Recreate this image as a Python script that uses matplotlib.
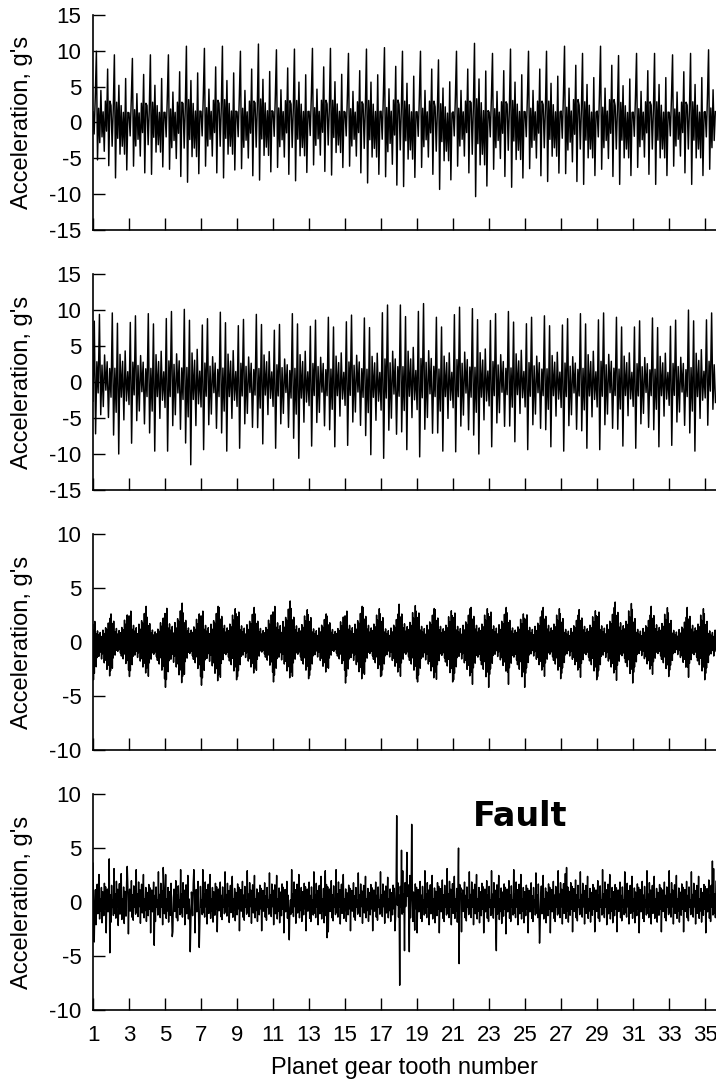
import matplotlib
matplotlib.use("Agg")
import matplotlib.pyplot as plt
import numpy as np

plt.rcParams['font.family'] = ['Liberation Sans', 'DejaVu Sans']
plt.rcParams['axes.unicode_minus'] = False

# ---- data ----
# x axis: planet gear tooth number, signals run from tooth 1 to ~35.6
x_end = 35.6
xticks = list(range(1, 36, 2))

# panel 1 - one mesh cycle per tooth (16 samples), two variants
p1_shape_a = [1.5, -2.0, 3.5, 10.0, -6.5, 2.0, -3.5, 4.5, -2.5, 1.5, -5.0, 3.0, -1.5, 7.5, -7.5, 3.0]
p1_shape_b = [2.5, -3.0, 2.0, 10.0, -7.0, 3.0, -2.0, 5.5, -4.0, 2.5, -3.0, 1.5, -4.0, 6.5, -6.0, 1.5]
# largest peak / deepest dip per tooth
p1_hi = [9.9, 9.4, 8.9, 9.4, 9.4, 10.6, 10.3, 10.6, 9.9, 10.9, 10.1, 10.2, 10.3, 10.3, 9.6,
         10.2, 10.4, 9.9, 9.9, 8.7, 9.9, 11.0, 9.6, 10.2, 9.9, 9.9, 10.6, 9.6, 10.6, 9.3,
         9.6, 9.6, 9.4, 9.6, 10.1]
p1_lo = [-6.0, -7.7, -7.0, -7.2, -7.5, -8.3, -7.0, -7.7, -7.4, -8.0, -7.2, -8.1, -6.8, -7.3, -7.0,
         -8.4, -8.7, -8.9, -7.2, -9.3, -7.0, -10.3, -7.5, -9.0, -7.4, -8.2, -8.2, -8.6, -7.5, -8.6,
         -7.2, -8.6, -7.0, -8.6, -7.5]

# panel 2 - two close spikes per tooth
p2_shape_a = [-3.5, 9.0, -9.5, 3.0, -2.0, 10.0, -6.0, 2.5, -4.5, 4.0, -1.5, 3.0, -6.5, 2.0]
p2_shape_b = [-2.0, 10.0, -7.0, 2.0, -4.0, 8.5, -9.5, 4.0, -2.0, 3.0, -5.0, 4.5, -2.5, 1.5]
p2_hi = [9.4, 9.6, 9.2, 9.5, 9.8, 10.1, 8.8, 9.7, 8.7, 9.4, 8.0, 9.5, 8.6, 9.0, 9.3,
         8.9, 10.7, 10.7, 10.9, 9.0, 10.4, 10.2, 9.5, 9.8, 9.0, 9.2, 8.8, 9.5, 9.6, 9.0,
         8.5, 8.9, 8.6, 10.0, 9.6]
p2_lo = [-7.2, -10.0, -8.5, -9.6, -9.6, -11.5, -9.4, -9.6, -9.2, -8.6, -9.2, -10.6, -8.9, -9.0, -8.8,
         -10.1, -10.6, -9.4, -10.4, -9.6, -9.7, -10.0, -9.0, -8.3, -9.4, -9.0, -9.6, -9.2, -9.4, -8.9,
         -9.2, -9.0, -8.8, -9.6, -6.0]

# panel 3 - high frequency burst once per tooth (40 samples)
p3_shape_a = [2.2, -2.9, 1.5, -2.4, 2.6, -1.6, 1.1, -1.9, 0.8, -1.2, 1.4, -0.6, 0.9, -1.1,
              0.5, -0.8, 1.2, -0.4, 0.7, -1.3, 0.6, -0.9, 1.5, -0.7, 1.1, -1.6, 0.9, -1.4,
              1.8, -1.0, 1.6, -2.1, 1.3, -1.8, 2.4, -1.5, 2.0, -2.6, 3.0, -2.2]
p3_shape_b = [2.7, -2.0, 1.8, -2.8, 1.3, -1.7, 2.0, -1.0, 0.7, -1.4, 1.0, -0.5, 1.3, -0.9,
              0.4, -1.0, 0.8, -0.6, 1.1, -0.8, 0.5, -1.2, 0.9, -1.5, 1.4, -0.6, 1.2, -1.8,
              1.0, -1.3, 2.1, -1.1, 1.7, -2.3, 1.5, -2.0, 2.6, -1.7, 2.2, -3.0]
p3_hi = [2.2, 2.6, 3.3, 2.3, 3.6, 2.7, 3.3, 3.2, 3.2, 2.6, 3.8, 3.1, 2.6, 2.4, 3.3,
         3.2, 2.6, 3.5, 3.1, 3.0, 3.1, 3.2, 3.2, 2.7, 2.9, 3.2, 2.5, 3.0, 3.2, 3.7,
         2.5, 3.3, 2.3, 3.2, 2.2]
p3_lo = [-3.5, -2.6, -3.2, -3.4, -4.2, -3.2, -4.0, -3.5, -3.2, -2.8, -3.7, -3.4, -3.1, -2.6, -3.8,
         -3.2, -3.1, -3.4, -3.7, -3.7, -3.5, -4.2, -3.0, -4.2, -2.9, -3.4, -2.9, -3.5, -3.2, -3.8,
         -2.8, -3.2, -2.6, -3.5, -2.9]

# panel 4 - broadband vibration, 30 samples per tooth
p4_rate = 30
p4_noise = [0.25, -0.48, 0.62, -0.15, 0.38, -0.70, 0.18, 0.55, -0.36, -0.05, 0.85, -0.52, 0.10,
            -0.28, 0.45, -0.64, 0.32, 0.04, -0.42, 0.58, -0.22, 0.47, -0.95, 0.14, 0.40, -0.30,
            -0.10, 0.66, -0.50, 0.22, -0.60, 0.50, -0.16, 0.07, -0.40, 1.00, -0.34]
p4_hi = [3.0, 3.1, 3.0, 2.8, 3.0, 2.9, 3.0, 2.8, 2.9, 2.7, 2.9, 3.0, 2.8, 3.0, 2.7,
         2.8, 2.7, 2.9, 2.9, 3.1, 2.8, 3.0, 2.9, 3.0, 2.7, 2.9, 3.1, 2.8, 3.0, 2.8,
         2.9, 2.8, 2.9, 2.8, 3.1]
p4_lo = [-3.0, -3.1, -2.8, -3.0, -2.9, -3.0, -2.9, -2.7, -2.8, -2.8, -3.0, -2.8, -3.0, -2.9, -2.8,
         -2.8, -2.8, -2.8, -3.0, -3.0, -2.9, -3.0, -3.1, -3.0, -3.0, -3.0, -2.9, -2.9, -3.0, -2.9,
         -3.0, -2.9, -2.9, -2.9, -3.0]
# isolated spikes
p4_spike_x = [1.00, 1.05, 1.90, 1.95, 2.90, 4.40, 4.90, 5.40, 6.40, 6.60, 6.90, 11.90,
              13.90, 14.00, 23.40, 25.80, 27.30, 35.40]
p4_spike_y = [3.6, -3.7, 4.0, -4.7, 3.3, -4.0, 3.2, -3.2, -4.6, 3.0, -4.2, -3.5,
              2.9, -3.3, -4.5, -3.8, 3.2, 3.8]
# impacts from the faulted tooth
fault_x = [17.80, 17.87, 18.02, 18.15, 18.30, 18.43, 18.57, 18.70, 18.85, 21.30, 21.35, 21.40]
fault_y = [-1.5, 8.0, -7.7, 4.8, -4.5, 4.6, -4.6, 7.2, -2.6, 5.0, -5.7, 1.0]


def tooth_signal(shape_a, shape_b, hi, lo):
    segs = []
    for k in range(len(hi)):
        s = np.array(shape_a if k % 2 == 0 else shape_b, dtype=float)
        segs.append(np.where(s > 0, s / s.max() * hi[k], s / s.min() * lo[k]))
    y = np.concatenate(segs)
    x = 1 + np.arange(len(y)) / len(shape_a)
    keep = x <= x_end
    return x[keep], y[keep]


x1, y1 = tooth_signal(p1_shape_a, p1_shape_b, p1_hi, p1_lo)
x2, y2 = tooth_signal(p2_shape_a, p2_shape_b, p2_hi, p2_lo)
x3, y3 = tooth_signal(p3_shape_a, p3_shape_b, p3_hi, p3_lo)

n4 = int((x_end - 1) * p4_rate) + 1
x4 = 1 + np.arange(n4) / p4_rate
base = np.resize(np.array(p4_noise), n4)
tooth = np.clip(np.floor(x4).astype(int) - 1, 0, len(p4_hi) - 1)
y4 = np.where(base > 0, base * np.array(p4_hi)[tooth], -base * np.array(p4_lo)[tooth])
for fx, fy in zip(p4_spike_x + fault_x, p4_spike_y + fault_y):
    i = min(int(round((fx - 1) * p4_rate)), n4 - 1)
    y4[i] = fy

# ---- figure ----
fig = plt.figure(figsize=(7.16, 10.85), dpi=100)
left, width, height = 0.1299, 0.8701, 0.1990
bottoms = [0.7876, 0.5484, 0.3088, 0.0691]
series = [(x1, y1, 15), (x2, y2, 15), (x3, y3, 10), (x4, y4, 10)]

axes = []
for b, (xx, yy, lim) in zip(bottoms, series):
    ax = fig.add_axes([left, b, width, height])
    ax.plot(xx, yy, color='black', lw=1.05)
    ax.set_xlim(1, x_end)
    ax.set_ylim(-lim, lim)
    ax.set_yticks(np.arange(-lim, lim + 1, 5))
    ax.set_xticks(xticks)
    for side in ['top', 'right']:
        ax.spines[side].set_visible(False)
    for side in ['left', 'bottom']:
        ax.spines[side].set_linewidth(1.2)
    ax.tick_params(direction='in', length=8.3, width=1.0, labelsize=16, pad=8.2)
    ax.tick_params(axis='x', pad=10.5)
    ax.set_ylabel("Acceleration, g's", fontsize=17)
    ax.yaxis.set_label_coords(-0.096, 0.5)
    axes.append(ax)

for ax in axes[:3]:
    ax.tick_params(axis='x', labelbottom=False)

axes[3].set_xlabel('Planet gear tooth number', fontsize=17, labelpad=8)
axes[3].text(22.1, 7.05, 'Fault', fontsize=24, fontweight='bold', family='DejaVu Sans')

fig.savefig('out.png', dpi=100)
